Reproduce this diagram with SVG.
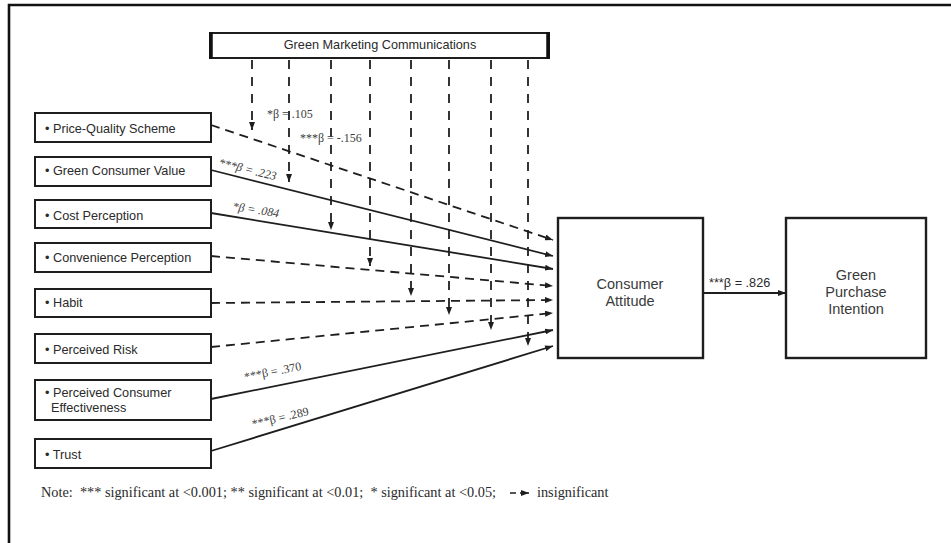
<svg xmlns="http://www.w3.org/2000/svg" width="951" height="543" viewBox="0 0 951 543">
  <style>
    .box { fill: #fff; stroke: #1e1e1e; stroke-width: 2; }
    .big { fill: #fff; stroke: #1e1e1e; stroke-width: 2.4; }
    .lbl { font-family: "Liberation Sans", Arial, sans-serif; font-size: 12.7px; fill: #2a2a2a; }
    .ttl { font-family: "Liberation Sans", Arial, sans-serif; font-size: 14.5px; fill: #3a3a3a; text-anchor: middle; }
    .beta { font-family: "Liberation Serif", "Times New Roman", serif; font-size: 12px; fill: #3c3c3c; }
    .note { font-family: "Liberation Serif", "Times New Roman", serif; font-size: 14.3px; fill: #2a2a2a; }
    .solid { stroke: #1e1e1e; stroke-width: 1.8; fill: none; marker-end: url(#arr); }
    .dash { stroke: #1e1e1e; stroke-width: 1.8; fill: none; stroke-dasharray: 9 6; marker-end: url(#arr); }
    .vdash { stroke: #1e1e1e; stroke-width: 1.8; fill: none; stroke-dasharray: 9 8; marker-end: url(#arr); }
  </style>
  <defs>
    <marker id="arr" viewBox="0 0 8 6" refX="8" refY="3" markerWidth="8" markerHeight="6" markerUnits="userSpaceOnUse" orient="auto">
      <path d="M0,0 L8,3 L0,6 Z" fill="#1e1e1e"/>
    </marker>
  </defs>

  <rect width="951" height="543" fill="#fff"/>
  <!-- outer frame (top and left edges) -->
  <path d="M9,543 V5 H951" fill="none" stroke="#111" stroke-width="2.6"/>

  <!-- moderator -->
  <g id="gmc">
    <rect class="box" x="210" y="33" width="339" height="25" stroke-width="1.5"/>
    <line x1="211" y1="32" x2="211" y2="59" stroke="#111" stroke-width="3.5"/>
    <line x1="548" y1="32" x2="548" y2="59" stroke="#111" stroke-width="3.5"/>
    <text class="lbl" x="380" y="49" text-anchor="middle" font-size="12.5">Green Marketing Communications</text>
  </g>

  <!-- antecedents -->
  <g id="pqs">
    <rect class="box" x="35" y="113" width="176" height="29"/>
    <text class="lbl" x="45" y="133">• Price-Quality Scheme</text>
  </g>
  <g id="gcv">
    <rect class="box" x="35" y="157" width="176" height="29"/>
    <text class="lbl" x="45" y="175">• Green Consumer Value</text>
  </g>
  <g id="cost">
    <rect class="box" x="35" y="200" width="176" height="28"/>
    <text class="lbl" x="45" y="220">• Cost Perception</text>
  </g>
  <g id="conv">
    <rect class="box" x="35" y="243" width="176" height="29"/>
    <text class="lbl" x="45" y="262">• Convenience Perception</text>
  </g>
  <g id="habit">
    <rect class="box" x="35" y="289" width="176" height="28"/>
    <text class="lbl" x="45" y="307">• Habit</text>
  </g>
  <g id="risk">
    <rect class="box" x="35" y="334" width="176" height="29"/>
    <text class="lbl" x="45" y="354">• Perceived Risk</text>
  </g>
  <g id="pce">
    <rect class="box" x="35" y="380" width="176" height="40"/>
    <text class="lbl" x="45" y="397">• Perceived Consumer</text>
    <text class="lbl" x="51" y="412">Effectiveness</text>
  </g>
  <g id="trust">
    <rect class="box" x="35" y="439" width="176" height="29"/>
    <text class="lbl" x="45" y="459">• Trust</text>
  </g>

  <!-- outcomes -->
  <g id="attitude">
    <rect class="big" x="558" y="218" width="145" height="140"/>
    <text class="ttl" x="630" y="289">Consumer</text>
    <text class="ttl" x="630" y="306">Attitude</text>
  </g>
  <g id="intention">
    <rect class="big" x="786" y="218" width="140" height="140"/>
    <text class="ttl" x="856" y="280">Green</text>
    <text class="ttl" x="856" y="297">Purchase</text>
    <text class="ttl" x="856" y="314">Intention</text>
  </g>

  <g id="connectors">
    <!-- antecedent paths into attitude -->
    <line class="dash" x1="211" y1="125" x2="553" y2="240"/>
    <line class="solid" x1="211" y1="170" x2="553" y2="256"/>
    <line class="solid" x1="211" y1="213" x2="553" y2="269"/>
    <line class="dash" x1="211" y1="256" x2="553" y2="286"/>
    <line class="dash" x1="211" y1="303" x2="553" y2="300"/>
    <line class="dash" x1="211" y1="347" x2="553" y2="313"/>
    <line class="solid" x1="211" y1="399" x2="553" y2="330"/>
    <line class="solid" x1="211" y1="451" x2="553" y2="346"/>

    <!-- moderating paths -->
    <line class="vdash" x1="252" y1="60" x2="252" y2="130"/>
    <line class="vdash" x1="289" y1="60" x2="289" y2="182"/>
    <line class="vdash" x1="331" y1="60" x2="331" y2="230"/>
    <line class="vdash" x1="370" y1="60" x2="370" y2="266"/>
    <line class="vdash" x1="411" y1="60" x2="411" y2="296"/>
    <line class="vdash" x1="449" y1="60" x2="449" y2="315"/>
    <line class="vdash" x1="491" y1="60" x2="491" y2="330"/>
    <line class="vdash" x1="528" y1="60" x2="528" y2="346"/>

    <!-- attitude to intention -->
    <line class="solid" x1="703" y1="293" x2="786" y2="293"/>
  </g>

  <g id="coefficients">
    <text class="beta" x="267" y="118">*β = .105</text>
    <text class="beta" x="300" y="142">***β = -.156</text>
    <text class="beta" font-style="italic" transform="translate(218,166) rotate(14)">***β = .223</text>
    <text class="beta" font-style="italic" transform="translate(232,210) rotate(9)">*β = .084</text>
    <text class="beta" transform="translate(245,381) rotate(-11)">***β =  .370</text>
    <text class="beta" transform="translate(253,428) rotate(-13)">***β =  .289</text>
    <text class="lbl" x="709" y="287" font-size="12">***β =  .826</text>
  </g>

  <g id="note">
    <text class="note" x="41" y="497" xml:space="preserve">Note:  *** significant at &lt;0.001; ** significant at &lt;0.01;  * significant at &lt;0.05;</text>
    <line x1="510" y1="493" x2="516" y2="493" stroke="#1e1e1e" stroke-width="1.5"/>
    <line x1="520" y1="493" x2="529" y2="493" stroke="#1e1e1e" stroke-width="1.5" marker-end="url(#arr)"/>
    <text class="note" x="537" y="497">insignificant</text>
  </g>
</svg>
